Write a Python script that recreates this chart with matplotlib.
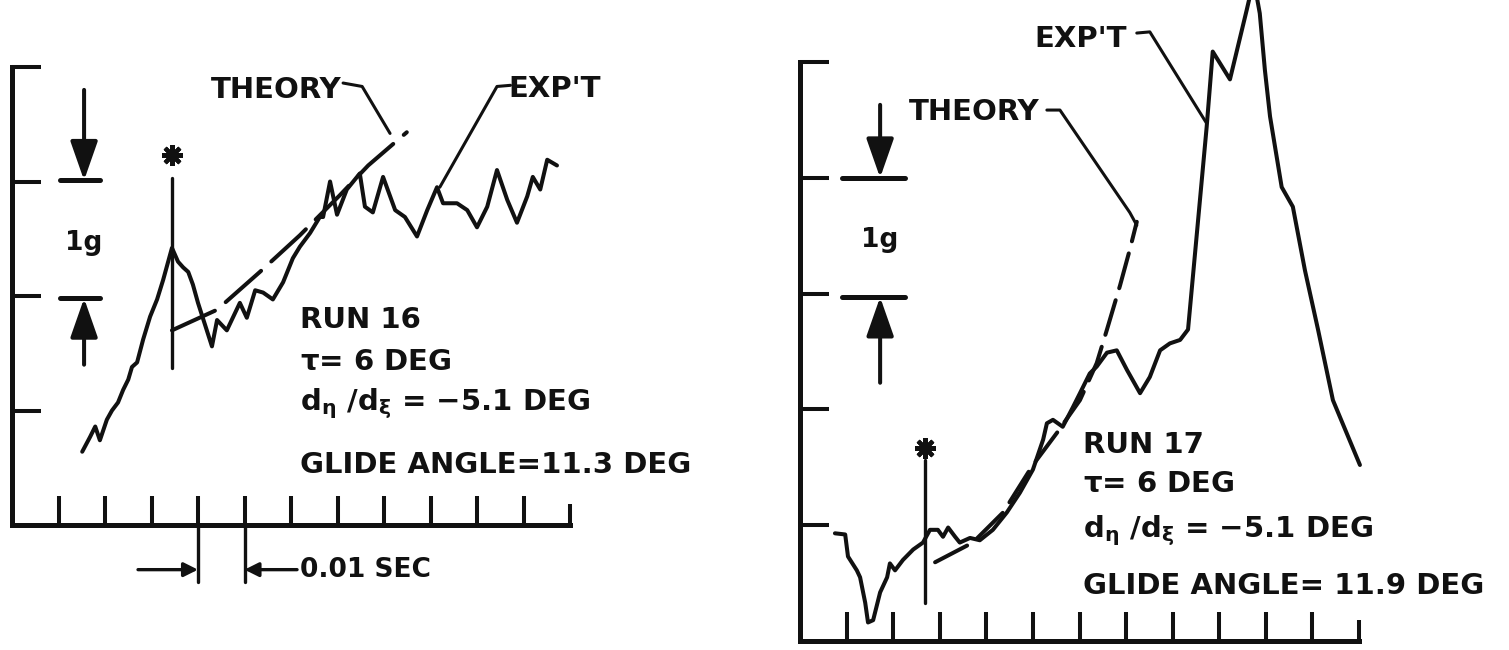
import matplotlib
matplotlib.use("Agg")
import matplotlib.pyplot as plt

plt.rcParams['font.family'] = ['DejaVu Sans']
plt.rcParams['font.weight'] = 'bold'
plt.rcParams['mathtext.default'] = 'bf'
plt.rcParams['lines.solid_capstyle'] = 'round'
plt.rcParams['lines.dash_capstyle'] = 'round'
plt.rcParams['lines.solid_joinstyle'] = 'round'
plt.rcParams['lines.dash_joinstyle'] = 'round'
plt.rcParams['lines.scale_dashes'] = False

# ---- Run 16: time in 0.01 s divisions, normal acceleration in g ----
run16_t = [1.51, 1.68, 1.79, 1.89, 2.04, 2.15, 2.28, 2.39, 2.50, 2.58, 2.69, 2.82,
           2.97, 3.12, 3.25, 3.44, 3.57, 3.68, 3.79, 3.89, 4.00, 4.15, 4.30, 4.41,
           4.62, 4.90, 5.05, 5.23, 5.40, 5.61, 5.83, 6.04, 6.19, 6.41, 6.62, 6.69,
           6.84, 6.99, 7.20, 7.48, 7.59, 7.76, 7.98, 8.24, 8.45, 8.71, 8.93, 9.14,
           9.27, 9.57, 9.79, 10.00, 10.22, 10.43, 10.65, 10.86, 11.08, 11.20, 11.36,
           11.51, 11.72]
run16_exp = [0.64, 0.77, 0.86, 0.74, 0.92, 1.00, 1.07, 1.18, 1.27, 1.38, 1.42, 1.62,
             1.82, 1.97, 2.14, 2.42, 2.30, 2.25, 2.21, 2.10, 1.94, 1.75, 1.56, 1.79,
             1.70, 1.94, 1.81, 2.05, 2.03, 1.97, 2.12, 2.33, 2.43, 2.55, 2.69, 2.69,
             3.00, 2.71, 2.93, 3.07, 2.78, 2.73, 3.04, 2.75, 2.69, 2.52, 2.75, 2.95,
             2.81, 2.81, 2.75, 2.60, 2.78, 3.10, 2.84, 2.64, 2.87, 3.04, 2.93,
             3.19, 3.14]
run16_theory_t = [3.44, 4.41, 5.33, 6.19, 7.05, 7.66, 8.49]
run16_theory = [1.70, 1.88, 2.21, 2.53, 2.88, 3.14, 3.43]
run16_impact = (3.44, 1.37, 3.03, 3.23)   # time, line bottom, line top, star height

# ---- Run 17 ----
run17_t = [0.75, 0.97, 1.03, 1.22, 1.29, 1.40, 1.46, 1.57, 1.72, 1.87, 1.93, 2.04,
           2.21, 2.43, 2.64, 2.79, 2.96, 3.07, 3.18, 3.33, 3.43, 3.65, 3.86, 4.14,
           4.44, 4.72, 5.00, 5.22, 5.30, 5.43, 5.64, 5.86, 6.01, 6.22, 6.37, 6.59,
           6.80, 7.02, 7.30, 7.51, 7.73, 7.94, 8.16, 8.33, 8.73, 8.86, 9.23, 9.59,
           9.74, 9.87, 9.98, 10.09, 10.34, 10.58, 10.84, 11.12, 11.44, 12.02]
run17_exp = [0.93, 0.92, 0.73, 0.61, 0.55, 0.33, 0.16, 0.18, 0.42, 0.55, 0.67, 0.61,
             0.70, 0.79, 0.85, 0.96, 0.96, 0.90, 0.98, 0.90, 0.85, 0.89, 0.87, 0.96,
             1.11, 1.28, 1.48, 1.74, 1.88, 1.91, 1.85, 2.02, 2.14, 2.31, 2.37, 2.49,
             2.51, 2.34, 2.14, 2.28, 2.51, 2.57, 2.60, 2.69, 4.44, 5.09, 4.85, 5.45,
             5.71, 5.42, 4.93, 4.53, 3.92, 3.75, 3.20, 2.69, 2.08, 1.52]
run17_theory_t = [2.90, 3.71, 4.36, 5.00, 5.52, 6.01, 6.37, 6.59, 6.87, 7.08, 7.23]
run17_theory = [0.68, 0.85, 1.11, 1.52, 1.80, 2.08, 2.40, 2.69, 3.07, 3.38, 3.62]
run17_impact = (2.68, 0.33, 1.56, 1.67)

W, H = 1509, 650
fig = plt.figure(figsize=(W / 100, H / 100), dpi=100)
fig.patch.set_facecolor('white')

INK = '#111111'
FS = 21


def make_axes(left, right, bottom, top, nrows):
    ax = fig.add_axes([left / W, (H - bottom) / H, (right - left) / W, (bottom - top) / H])
    ax.set_xlim(0, 12)
    ax.set_ylim(0, nrows)
    ax.patch.set_alpha(0)
    for s in ('top', 'right'):
        ax.spines[s].set_visible(False)
    for s in ('left', 'bottom'):
        ax.spines[s].set_linewidth(3.6)
        ax.spines[s].set_color(INK)
        ax.spines[s].set_capstyle('projecting')
    ax.set_xticks(range(1, 12))
    ax.set_xticks([12], minor=True)
    ax.set_yticks(range(1, nrows + 1))
    ax.tick_params(which='major', direction='in', length=21, width=2.9, color=INK,
                   labelbottom=False, labelleft=False)
    ax.tick_params(which='minor', axis='x', direction='in', length=15, width=2.9,
                   color=INK, labelbottom=False)
    ax.tick_params(which='minor', axis='y', left=False)
    return ax


def leader(ax, xs, ys):
    ax.plot(xs, ys, color=INK, lw=2.2, clip_on=False)


def one_g(ax, x, x0, x1, y_hi, y_lo, top, bottom, label_y):
    ax.plot([x0, x1], [y_hi, y_hi], color=INK, lw=3.6, clip_on=False)
    ax.plot([x0, x1], [y_lo, y_lo], color=INK, lw=3.6, clip_on=False)
    style = dict(arrowstyle='-|>,head_length=1.2,head_width=0.42', mutation_scale=20,
                 lw=2.9, color=INK, fc=INK, shrinkA=0, shrinkB=0)
    ax.annotate('', xy=(x, y_hi), xytext=(x, top), arrowprops=style, annotation_clip=False)
    ax.annotate('', xy=(x, y_lo), xytext=(x, bottom), arrowprops=style, annotation_clip=False)
    ax.text(x, label_y, '1g', fontsize=19, ha='center', va='center', color=INK)


def impact(ax, mark):
    x, y0, y1, ystar = mark
    ax.plot([x, x], [y0, y1], color=INK, lw=2.4, clip_on=False)
    ax.plot([x], [ystar], marker=(8, 2, 0), ms=15, mew=3.0, color=INK, clip_on=False)


def run_block(ax, x, ys, run, glide):
    lines = [run, r'$\tau$= 6 DEG', r'd$_\eta$ /d$_\xi$ = $-$5.1 DEG', glide]
    for y, s in zip(ys, lines):
        ax.text(x, y, s, fontsize=FS, ha='left', va='baseline', color=INK)


# ---------------- left panel: Run 16 ----------------
ax1 = make_axes(12, 570, 525, 67, 4)
ax1.plot(run16_t, run16_exp, color=INK, lw=2.9, clip_on=False)
ln, = ax1.plot(run16_theory_t, run16_theory, color=INK, lw=2.9, clip_on=False)
ln.set_dashes((34, 10))
impact(ax1, run16_impact)
one_g(ax1, 1.55, 1.03, 1.89, 3.01, 1.98, 3.80, 1.40, 2.46)

ax1.text(7.08, 3.73, 'THEORY', fontsize=FS, ha='right', va='baseline', color=INK)
leader(ax1, [7.12, 7.53, 8.13], [3.86, 3.83, 3.42])
ax1.text(10.68, 3.74, "EXP'T", fontsize=FS, ha='left', va='baseline', color=INK)
leader(ax1, [10.72, 10.43, 9.20], [3.84, 3.83, 2.95])
run_block(ax1, 6.19, [1.72, 1.35, 1.00, 0.45], 'RUN 16', 'GLIDE ANGLE=11.3 DEG')

# time scale: one division = 0.01 s
for xv in (4, 5):
    ax1.plot([xv, xv], [0, -0.50], color=INK, lw=2.4, clip_on=False)
small = dict(arrowstyle='-|>,head_length=0.6,head_width=0.3', mutation_scale=14,
             lw=2.4, color=INK, fc=INK, shrinkA=0, shrinkB=0)
ax1.annotate('', xy=(4, -0.39), xytext=(2.71, -0.39), arrowprops=small, annotation_clip=False)
ax1.annotate('', xy=(5, -0.39), xytext=(6.13, -0.39), arrowprops=small, annotation_clip=False)
ax1.text(6.2, -0.39, '0.01 SEC', fontsize=19, ha='left', va='center', color=INK)

# ---------------- right panel: Run 17 ----------------
ax2 = make_axes(800, 1359, 641, 62, 5)
ax2.plot(run17_t, run17_exp, color=INK, lw=2.9, clip_on=False)
ln, = ax2.plot(run17_theory_t, run17_theory, color=INK, lw=2.9, clip_on=False)
ln.set_dashes((26, 9))
impact(ax2, run17_impact)
one_g(ax2, 1.72, 0.90, 2.25, 4.00, 2.97, 4.63, 2.23, 3.46)

ax2.text(5.15, 4.50, 'THEORY', fontsize=FS, ha='right', va='baseline', color=INK)
leader(ax2, [5.30, 5.58, 7.08, 7.23], [4.585, 4.585, 3.70, 3.59])
ax2.text(7.02, 5.13, "EXP'T", fontsize=FS, ha='right', va='baseline', color=INK)
leader(ax2, [7.23, 7.51, 8.73], [5.25, 5.26, 4.47])
run_block(ax2, 6.07, [1.62, 1.29, 0.90, 0.41], 'RUN 17', 'GLIDE ANGLE= 11.9 DEG')

fig.savefig('out.png', dpi=100, facecolor='white')
